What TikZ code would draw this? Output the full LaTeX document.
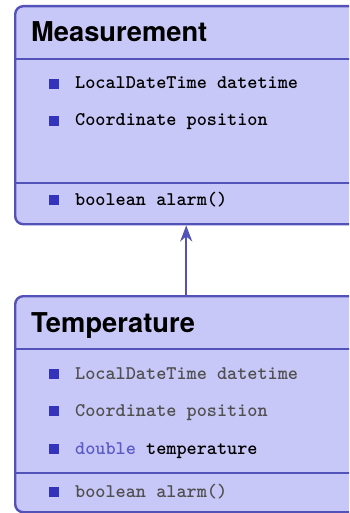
\documentclass[tikz,border=0pt]{standalone}
\usepackage{fontspec}
\newfontfamily\titlefont{TeX Gyre Heros}
\usetikzlibrary{arrows.meta}
\definecolor{boxfill}{RGB}{200,200,248}
\definecolor{boxline}{RGB}{82,82,184}
\definecolor{bulletc}{RGB}{51,51,187}
\definecolor{inherit}{RGB}{80,80,80}
\definecolor{typec}{RGB}{90,90,200}
\tikzset{
  classbox/.style={draw=boxline, fill=boxfill, line width=2.4pt, rounded corners=8pt,
    minimum width=342pt, inner sep=0pt, anchor=north west},
  divider/.style={draw=boxline, line width=2.4pt},
  classtitle/.style={anchor=base west, inner sep=0pt, font=\titlefont\bfseries\fontsize{27.3}{30}\selectfont},
  member/.style={anchor=base west, inner sep=0pt, font=\ttfamily\bfseries\fontsize{19.3}{22}\selectfont},
  bulletbox/.style={fill=bulletc, minimum size=10pt, inner sep=0pt, anchor=south west},
  inherits/.style={draw=boxline, line width=2.4pt, -{Stealth[length=16pt,width=12pt,inset=5pt]}}
}
\begin{document}
\begin{tikzpicture}[x=1pt,y=-1pt]
\clip (0,0) rectangle (349,513);
\useasboundingbox (0,0) rectangle (349,513);
% Measurement
\node[classbox, minimum height=218pt] (meas) at (14,5) {};
\draw[divider] (meas.west |- 0,59) coordinate (m1) -- (meas.east |- 0,59) coordinate (m2);
\draw[divider] (meas.west |- 0,183) coordinate (m3) -- (meas.east |- 0,183) coordinate (m4);
\node[classtitle] (mtitle) at (31,42) {Measurement};
\node[bulletbox] (mb1) at (49,89) {};
\node[member] (mf1) at (75,89) {LocalDateTime datetime};
\node[bulletbox] (mb2) at (49,126) {};
\node[member] (mf2) at (75,126) {Coordinate position};
\node[bulletbox] (mb3) at (49,205) {};
\node[member] (mm1) at (75,205) {boolean alarm()};
% Temperature
\node[classbox, minimum height=216pt] (temp) at (14,295) {};
\draw[divider] (temp.west |- 0,349) coordinate (t1) -- (temp.east |- 0,349) coordinate (t2);
\draw[divider] (temp.west |- 0,473) coordinate (t3) -- (temp.east |- 0,473) coordinate (t4);
\node[classtitle] (ttitle) at (31,332) {Temperature};
\node[bulletbox] (tb1) at (49,379) {};
\node[member, text=inherit] (tf1) at (75,379) {LocalDateTime datetime};
\node[bulletbox] (tb2) at (49,416) {};
\node[member, text=inherit] (tf2) at (75,416) {Coordinate position};
\node[bulletbox] (tb3) at (49,454) {};
\node[member] (tf3) at (75,454) {\textcolor{typec}{double} temperature};
\node[bulletbox] (tb4) at (49,497) {};
\node[member, text=inherit] (tm1) at (75,497) {boolean alarm()};
% inheritance arrow
\draw[inherits] (temp.north) -- (meas.south);
\end{tikzpicture}
\end{document}
